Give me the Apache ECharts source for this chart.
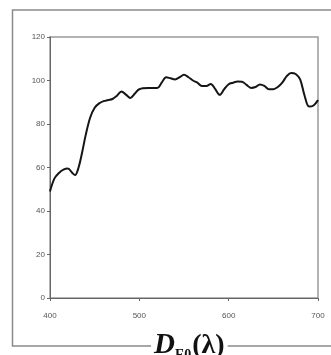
<!DOCTYPE html>
<html>
<head>
<meta charset="utf-8">
<script src="https://cdn.jsdelivr.net/npm/echarts@6/dist/echarts.min.js"></script>
<style>
  html, body { margin: 0; padding: 0; background: #fff; }
  #chart { width: 331px; height: 355px; }
</style>
</head>
<body>
<div id="chart"></div>
<script>
// Relative spectral distribution D_E0(λ), 400–700 nm
const wavelengths = [400, 405, 410, 415, 420, 425, 428, 432, 436, 440, 445, 450, 455, 460, 465, 470, 475, 480, 485, 490, 495, 500, 510, 520, 525, 530, 535, 540, 545, 550, 555, 560, 565, 570, 575, 580, 585, 590, 595, 600, 605, 610, 615, 620, 625, 630, 635, 640, 645, 650, 655, 660, 665, 670, 675, 680, 685, 690, 695, 700];
const intensity = [49, 55, 57.5, 59, 59.5, 57.5, 56.5, 60, 67, 75, 83, 87.5, 89.5, 90.5, 91, 91.5, 93, 95, 93.5, 92, 94, 96, 96.5, 96.5, 99, 101.5, 101, 100.5, 101.5, 102.6, 101.5, 100, 99, 97.5, 97.5, 98.4, 96, 93.4, 96, 98.3, 99, 99.5, 99.4, 98, 96.6, 97, 98.2, 97.5, 96, 96, 97, 99, 102, 103.5, 103, 100.5, 93, 88, 88.5, 91];
const yTicks = [0, 20, 40, 60, 80, 100, 120];
const xTicks = [400, 500, 600, 700];

const chart = echarts.init(document.getElementById('chart'), null, { renderer: 'canvas' });

const labelFont = {
  fontFamily: '"Liberation Sans Narrow", "Liberation Sans", Arial, sans-serif',
  fontSize: 8,
  color: '#555'
};
const serif = '"Liberation Serif", "DejaVu Serif", serif';

chart.setOption({
  animation: false,
  backgroundColor: '#fff',
  title: {
    text: '{d|D}{s|E0}{p|(λ)}',
    left: 151,
    top: 330,
    padding: [0, 3],
    backgroundColor: '#fff',
    z: 10,
    textStyle: {
      rich: {
        d: { fontFamily: serif, fontWeight: 'bold', fontStyle: 'italic', fontSize: 29, lineHeight: 32, color: '#111' },
        s: { fontFamily: serif, fontWeight: 'bold', fontSize: 14, lineHeight: 32, color: '#111', verticalAlign: 'bottom', padding: [20, 1, 0, 0] },
        p: { fontFamily: serif, fontWeight: 'bold', fontSize: 28, lineHeight: 32, color: '#111' }
      }
    }
  },
  graphic: [{
    type: 'rect',
    z: 0,
    shape: { x: 12.5, y: 10, width: 330, height: 336 },
    style: { fill: 'none', stroke: '#8a8a8a', lineWidth: 1.5 }
  }],
  grid: {
    left: 50,
    right: 13,
    top: 37,
    bottom: 57,
    show: true,
    borderColor: '#9a9a9a',
    borderWidth: 1.5,
    backgroundColor: 'transparent'
  },
  xAxis: {
    type: 'value',
    min: 400,
    max: 700,
    interval: 100,
    axisLine: { lineStyle: { color: '#666', width: 1 } },
    axisTick: { show: true, length: 3, inside: false, lineStyle: { color: '#666' } },
    axisLabel: Object.assign({ margin: 14, formatter: v => xTicks.includes(v) ? String(v) : '' }, labelFont),
    splitLine: { show: false }
  },
  yAxis: {
    type: 'value',
    min: 0,
    max: 120,
    interval: 20,
    axisLine: { show: true, lineStyle: { color: '#666', width: 1 } },
    axisTick: { show: true, length: 3, lineStyle: { color: '#666' } },
    axisLabel: Object.assign({ margin: 5, formatter: v => yTicks.includes(v) ? String(v) : '' }, labelFont),
    splitLine: { show: false }
  },
  series: [{
    type: 'line',
    data: wavelengths.map((w, i) => [w, intensity[i]]),
    smooth: 0.35,
    showSymbol: false,
    lineStyle: { color: '#151515', width: 2 },
    z: 5
  }]
});
</script>
</body>
</html>
